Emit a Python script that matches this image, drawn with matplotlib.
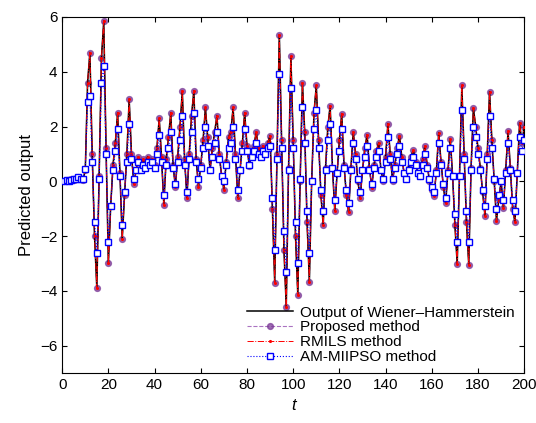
import numpy as np
import matplotlib
matplotlib.use("Agg")
import matplotlib.pyplot as plt

plt.rcParams['font.family'] = ['Liberation Sans', 'DejaVu Sans']

t = np.arange(1, 201)

# output of the Wiener-Hammerstein system
y_out = [0.0, 0.05, 0.0, 0.1, 0.05, 0.1, 0.15, 0.1, 0.05, 0.4,
         3.6, 4.7, 1.0, -2.0, -3.9, 0.2, 4.5, 5.85, 1.2, -3.0,
         -0.9, 0.6, 1.4, 2.5, 0.3, -2.1, -0.5, 1.0, 3.0, 1.0,
         -0.1, 0.4, 0.9, 0.5, 0.8, 0.6, 0.9, 0.7, 0.8, 0.6,
         1.2, 2.3, 0.9, -0.85, 0.8, 1.6, 2.5, 0.6, -0.2, 0.9,
         2.0, 3.3, 0.8, -0.6, 1.0, 2.4, 3.3, 0.8, -0.2, 0.6,
         1.5, 2.7, 1.6, 0.4, 1.2, 1.8, 2.4, 1.0, 0.2, -0.3,
         0.7, 1.6, 1.8, 2.7, 1.0, -0.6, 0.4, 1.4, 2.5, 1.3,
         0.55, 1.0, 1.3, 1.8, 1.2, 1.0, 1.3, 1.1, 1.4, 1.67,
         -1.0, -3.7, 1.0, 5.35, 1.5, -2.5, -4.6, 0.5, 4.56, 1.5,
         -2.0, -4.15, 0.0, 3.6, 1.8, -1.5, -3.66, 0.0, 2.5, 3.5,
         1.5, -0.5, -1.6, 0.5, 2.0, 2.76, 0.5, -1.08, 0.3, 1.5,
         2.47, 0.6, -0.5, -1.13, 0.5, 1.8, 1.0, 0.0, -0.6, 0.4,
         1.2, 1.7, 0.5, -0.23, 0.6, 1.1, 1.4, 0.4, 0.0, 0.9,
         2.1, 1.0, 0.0, 0.6, 1.2, 1.67, 0.9, 0.3, 0.07, 0.5,
         0.9, 1.14, 0.7, 0.3, 0.2, 0.8, 1.28, 0.6, 0.0, -0.3,
         -0.53, 0.4, 1.77, 0.7, -0.2, -0.8, 0.4, 1.56, 0.2, -1.6,
         -3.02, 0.2, 3.5, 1.0, -1.5, -3.04, 0.5, 2.68, 2.0, 1.2,
         0.5, -0.4, -1.25, 1.0, 3.27, 1.5, 0.0, -1.44, -0.66, 0.0,
         -0.97, 0.4, 1.83, 0.5, -1.0, -1.5, 0.3, 2.13, 1.4, 2.0]

# proposed and RMILS estimates sit on the true output at this resolution
y_prop = y_out
y_rmils = y_out

y_am = [0.0, 0.05, 0.0, 0.05, 0.1, 0.1, 0.15, 0.1, 0.1, 0.45,
        2.9, 3.1, 0.7, -1.5, -2.6, 0.1, 3.6, 4.2, 1.0, -2.2,
        -0.9, 0.4, 1.1, 1.9, 0.2, -1.6, -0.4, 0.7, 2.1, 0.8,
        0.1, 0.4, 0.7, 0.4, 0.6, 0.5, 0.7, 0.6, 0.7, 0.5,
        1.0, 1.7, 0.7, -0.5, 0.6, 1.2, 1.8, 0.5, -0.1, 0.7,
        1.5, 2.4, 0.6, -0.4, 0.8, 1.8, 2.5, 0.7, 0.1, 0.5,
        1.2, 2.0, 1.3, 0.4, 0.9, 1.4, 1.8, 0.8, 0.2, 0.0,
        0.6, 1.2, 1.4, 2.0, 0.8, -0.3, 0.4, 1.1, 1.9, 1.1,
        0.6, 0.9, 1.1, 1.4, 1.0, 0.9, 1.1, 1.0, 1.2, 1.3,
        -0.6, -2.5, 0.8, 3.9, 1.2, -1.8, -3.3, 0.4, 3.4, 1.2,
        -1.5, -3.0, 0.1, 2.7, 1.4, -1.1, -2.6, 0.0, 1.9, 2.6,
        1.2, -0.3, -1.1, 0.4, 1.5, 2.1, 0.5, -0.7, 0.3, 1.1,
        1.9, 0.5, -0.3, -0.8, 0.4, 1.4, 0.8, 0.1, -0.4, 0.4,
        0.9, 1.3, 0.4, -0.1, 0.5, 0.9, 1.1, 0.4, 0.1, 0.7,
        1.6, 0.8, 0.1, 0.5, 1.0, 1.3, 0.7, 0.3, 0.1, 0.4,
        0.7, 0.9, 0.6, 0.3, 0.2, 0.6, 1.0, 0.5, 0.1, -0.2,
        -0.4, 0.3, 1.4, 0.6, -0.1, -0.6, 0.3, 1.2, 0.2, -1.2,
        -2.2, 0.2, 2.6, 0.8, -1.1, -2.2, 0.4, 2.0, 1.6, 1.0,
        0.4, -0.3, -0.9, 0.8, 2.4, 1.2, 0.1, -1.0, -0.5, 0.0,
        -0.7, 0.3, 1.4, 0.4, -0.7, -1.1, 0.3, 1.6, 1.1, 1.5]

fig = plt.figure(figsize=(5.36, 4.23), dpi=100)
ax = fig.add_axes([0.116, 0.118, 0.862, 0.842])

ax.plot(t, y_prop, '--', color='#8e44ad', lw=0.8, marker='o', ms=4.2,
        mfc='#7d3c98', mec='#7d3c98', alpha=0.75, zorder=2,
        label='Proposed method')
ax.plot(t, y_out, '-', color='black', lw=1.1, zorder=3,
        label='Output of Wiener\u2013Hammerstein')
ax.plot(t, y_rmils, '-.', color='red', lw=0.7, marker='.', ms=2.5,
        zorder=4, label='RMILS method')
ax.plot(t, y_am, ':', color='blue', lw=0.8, marker='s', ms=4.0,
        mfc='white', mec='blue', mew=1.0, zorder=5, label='AM-MIIPSO method')

ax.set_xlim(0, 200)
ax.set_ylim(-7, 6)
ax.set_xticks(np.arange(0, 201, 20))
ax.set_yticks(np.arange(-6, 7, 2))
ax.tick_params(direction='in', top=True, right=True, labelsize=11)
ax.set_xlabel('t', fontsize=12, style='italic')
ax.set_ylabel('Predicted output', fontsize=12)

handles, labels = ax.get_legend_handles_labels()
order = [1, 0, 2, 3]
ax.legend([handles[i] for i in order], [labels[i] for i in order],
          loc='lower right', frameon=False, fontsize=11, handlelength=3.0,
          labelspacing=0.05, borderaxespad=0.2, handletextpad=0.5)

fig.savefig('out.png', dpi=100)
